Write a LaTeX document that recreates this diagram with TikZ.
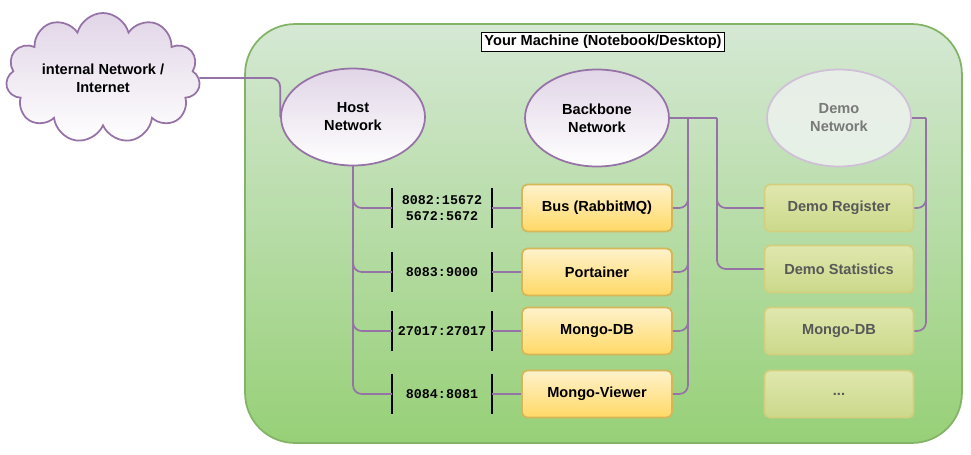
\documentclass[tikz,border=0pt]{standalone}
\usepackage{fontspec}
\setmainfont{Liberation Sans}
\setmonofont{Liberation Mono}
\usetikzlibrary{calc, positioning, shapes}

\definecolor{grnline}{HTML}{82B366}
\definecolor{grntop}{HTML}{D5E8D4}
\definecolor{grnbot}{HTML}{97D077}
\definecolor{purpline}{HTML}{9673A6}
\definecolor{purpfill}{HTML}{E1D5E7}
\definecolor{yelline}{HTML}{D6B656}
\definecolor{yeltop}{HTML}{FFF2CC}
\definecolor{yelbot}{HTML}{FFD966}
\definecolor{demoline}{HTML}{D2CF7E}
\definecolor{demotop}{HTML}{E0E7AE}
\definecolor{demobot}{HTML}{CBD98A}
\definecolor{demotext}{HTML}{585858}

\begin{document}
\begin{tikzpicture}[x=0.02cm, y=-0.02cm,
  txt/.style={font=\fontsize{8.3}{10.2}\selectfont\bfseries, align=center},
  machine/.style={draw=grnline, line width=1pt, rounded corners=1cm, top color=grntop, bottom color=grnbot, minimum width=14.34cm, minimum height=8.38cm},
  hdr/.style={txt, draw=black, fill=white, line width=0.6pt, inner sep=1.5pt},
  net/.style={txt, ellipse, draw=purpline, line width=1pt, top color=purpfill, bottom color=white, minimum width=2.88cm, minimum height=1.94cm},
  svc/.style={txt, draw=yelline, line width=1pt, rounded corners=3pt, top color=yeltop, bottom color=yelbot, minimum width=3cm, minimum height=0.94cm},
  demo/.style={txt, text=demotext, draw=demoline, line width=1pt, rounded corners=3pt, top color=demotop, bottom color=demobot, minimum width=2.98cm, minimum height=0.94cm},
  port/.style={font=\fontsize{7.6}{9.1}\selectfont\ttfamily\bfseries, align=center, minimum width=1.98cm, minimum height=0.8cm, inner sep=0pt},
  bracket/.style={draw=black, line width=1.1pt},
  link/.style={draw=purpline, line width=1pt, rounded corners=5pt}]
  \useasboundingbox (0,0) rectangle (971,454);

  % container
  \node[machine] (mach) at (603.5,233.5) {};
  \node[hdr] (head) at (603,42) {Your Machine (Notebook/Desktop)};

  % networks
  \node[txt, cloud, cloud puffs=11, cloud ignores aspect, draw=purpline, line width=1pt, top color=purpfill, bottom color=white, minimum width=3.8cm, minimum height=2.6cm] (inet) at (103,78) {internal Network /\\Internet};
  \node[net] (host) at (353,117) {Host\\Network};
  \node[net] (backbone) at (597,118) {Backbone\\Network};
  \node[net, text=demotext!80, draw=purpline!45, top color=grntop!80!gray!40, bottom color=grntop!60!white] (demonet) at (839,118) {Demo\\Network};

  % services
  \node[svc] (s1) at (597,208) {Bus (RabbitMQ)};
  \node[svc] (s2) at (597,272) {Portainer};
  \node[svc] (s3) at (597,331) {Mongo-DB};
  \node[svc] (s4) at (597,394) {Mongo-Viewer};

  \node[demo] (d1) at (839,208) {Demo Register};
  \node[demo] (d2) at (839,269) {Demo Statistics};
  \node[demo] (d3) at (839,331) {Mongo-DB};
  \node[demo] (d4) at (839,394) {...};

  % port mappings
  \node[port] (p1) at (442,208) {8082:15672\\5672:5672};
  \node[port] (p2) at (442,272) {8083:9000};
  \node[port] (p3) at (442,331) {27017:27017};
  \node[port] (p4) at (442,394) {8084:8081};

  \foreach \i in {1,...,4} {
    \draw[bracket] (p\i.north west) -- (p\i.south west);
    \draw[bracket] (p\i.north east) -- (p\i.south east);
    \draw[link] (host.south) |- (p\i.west);
    \draw[link] (p\i.east) -- (s\i.west);
  }

  \coordinate (bb) at (688,118);
  \coordinate (dd) at (717,118);
  \coordinate (dn) at (926,118);

  \draw[link] (inet.east) -| (host.west);
  \draw[link] (backbone.east) -- (dd);
  \foreach \i in {1,...,4}
    \draw[link] (bb) |- (s\i.east);
  \draw[link] (dd) |- (d1.west);
  \draw[link] (dd) |- (d2.west);
  \draw[link] (demonet.east) -- (dn);
  \draw[link] (dn) |- (d1.east);
  \draw[link] (dn) |- (d3.east);
\end{tikzpicture}
\end{document}
